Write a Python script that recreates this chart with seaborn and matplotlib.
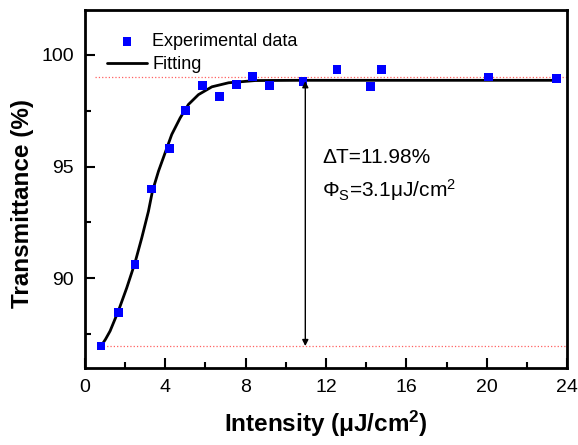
import matplotlib
matplotlib.use("Agg")
import matplotlib.pyplot as plt
import seaborn as sns
import pandas as pd

intensity = [0.80, 1.66, 2.49, 3.33, 4.19, 5.02, 5.84, 6.68, 7.53, 8.36,
             9.19, 10.86, 12.55, 14.21, 14.75, 20.11, 23.46]
transmittance = [86.98, 88.47, 90.64, 94.00, 95.80, 97.50, 98.62, 98.13, 98.67, 99.02,
                 98.62, 98.81, 99.32, 98.56, 99.32, 99.00, 98.92]

# fitted curve
fit_x = [0.80, 1.02, 1.25, 1.66, 2.08, 2.49, 2.83, 3.16, 3.36, 3.66, 3.99, 4.32, 4.74,
         5.15, 5.65, 6.32, 7.15, 8.48, 10.7, 23.6]
fit_y = [86.98, 87.28, 87.65, 88.54, 89.58, 90.70, 91.82, 93.00, 93.90, 94.79, 95.61, 96.43, 97.17,
         97.77, 98.21, 98.56, 98.74, 98.84, 98.85, 98.85]

top_level = 98.98
base_level = 86.98
arrow_x = 10.97
arrow_top = 98.81
arrow_bottom = 86.98

sns.set_theme(style="ticks")
plt.rcParams["font.family"] = ["Liberation Sans", "DejaVu Sans"]
plt.rcParams["mathtext.fontset"] = "custom"
plt.rcParams["mathtext.rm"] = "Liberation Sans"
plt.rcParams["mathtext.it"] = "Liberation Sans:italic"
plt.rcParams["mathtext.bf"] = "Liberation Sans:bold"
for k in ["text.color", "axes.labelcolor", "xtick.color", "ytick.color"]:
    plt.rcParams[k] = "black"

df = pd.DataFrame({"x": intensity, "y": transmittance})
fit = pd.DataFrame({"x": fit_x, "y": fit_y})

fig = plt.figure(figsize=(5.78, 4.45), dpi=100)
ax = fig.add_axes([0.147, 0.173, 0.834, 0.805])

ax.hlines(top_level, 0.5, 24, colors="#ff6060", linestyles=":", linewidth=0.9, zorder=1)
ax.hlines(base_level, 0.75, 24, colors="#ff6060", linestyles=":", linewidth=0.9, zorder=1)

sns.lineplot(data=fit, x="x", y="y", color="black", linewidth=2, sort=False,
             label="Fitting", ax=ax, zorder=2)
sns.scatterplot(data=df, x="x", y="y", marker="s", color="#0000ff", s=40,
                edgecolor="none", label="Experimental data", ax=ax, zorder=3)

ax.annotate("", xy=(arrow_x, arrow_top), xytext=(arrow_x, arrow_bottom),
            arrowprops=dict(arrowstyle="<|-|>", color="black", lw=1, mutation_scale=9,
                            shrinkA=0, shrinkB=0))
ax.text(11.8, 95.4, "\u0394T=11.98%", fontsize=15, va="center")
ax.text(11.8, 93.95, "\u03a6$_\\mathrm{S}$=3.1\u03bcJ/cm$^\\mathrm{2}$", fontsize=15, va="center")

ax.set_xlim(0, 24)
ax.set_ylim(86, 102)
ax.set_xticks([0, 4, 8, 12, 16, 20, 24])
ax.set_xticks([2, 6, 10, 14, 18, 22], minor=True)
ax.set_yticks([90, 95, 100])
ax.set_yticks([87.5, 92.5, 97.5], minor=True)
ax.tick_params(direction="in", which="major", length=7, width=1.5, labelsize=14,
               top=False, right=False, pad=8)
ax.tick_params(direction="in", which="minor", length=4, width=1.5, top=False, right=False)
for s in ax.spines.values():
    s.set_linewidth(2)
    s.set_color("black")

ax.set_xlabel("Intensity (\u03bcJ/cm$^\\mathbf{2}$)", fontsize=17.5, fontweight="bold", labelpad=9)
ax.set_ylabel("Transmittance (%)", fontsize=17.5, fontweight="bold")
ax.yaxis.set_label_coords(-0.105, 0.46)

h, l = ax.get_legend_handles_labels()
ax.legend([h[1], h[0]], [l[1], l[0]], loc="upper left", bbox_to_anchor=(0.02, 0.97),
          frameon=False, fontsize=13, handlelength=2.2, handletextpad=0.3,
          labelspacing=0.33, borderaxespad=0.3)

fig.savefig("out.png", dpi=100)
